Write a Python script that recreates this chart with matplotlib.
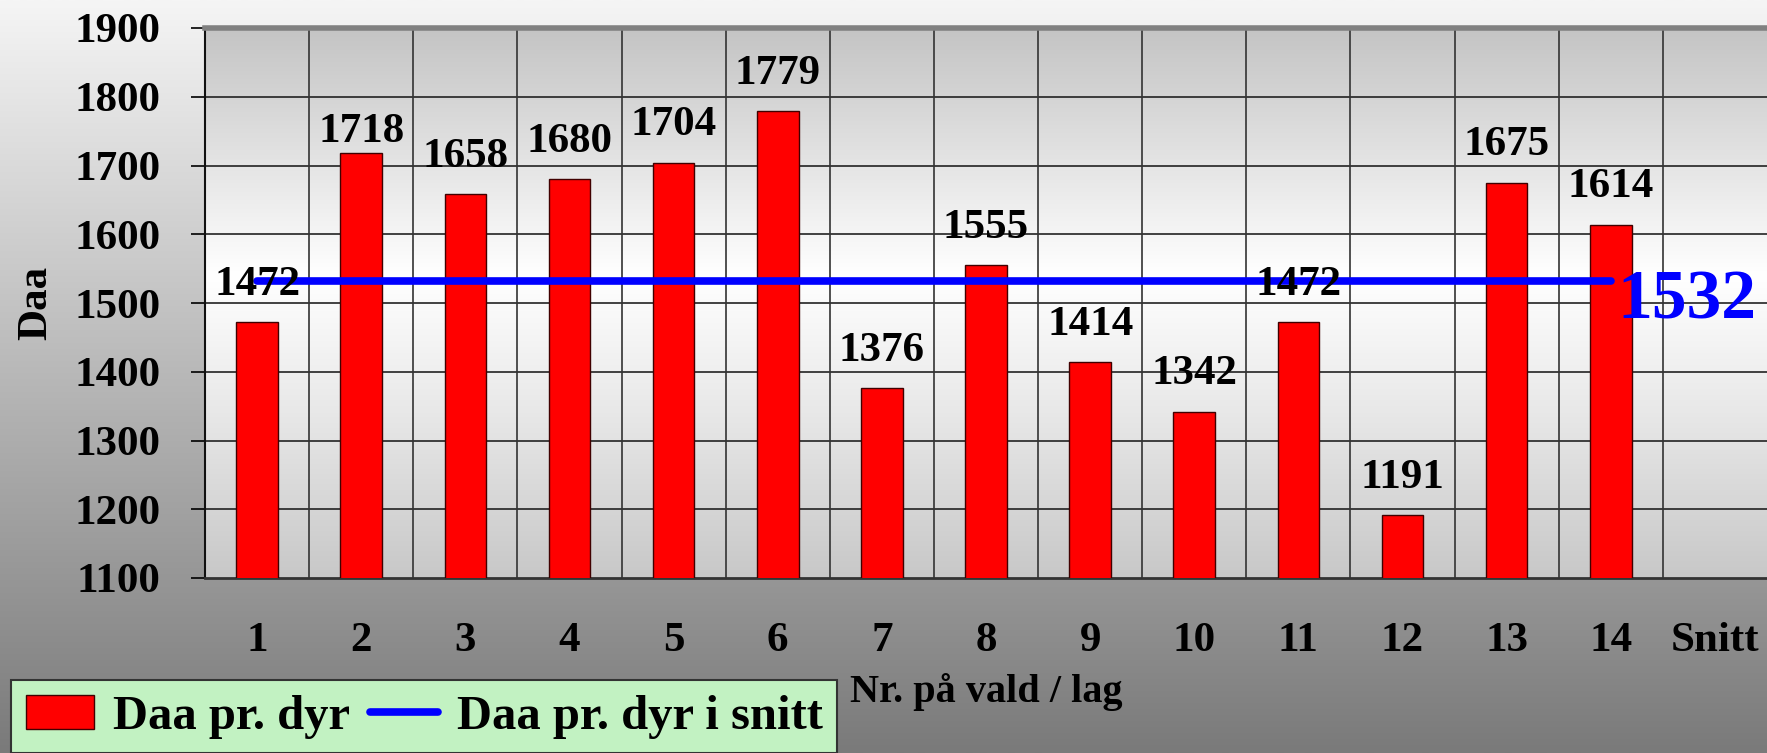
import numpy as np
import matplotlib
matplotlib.use("Agg")
import matplotlib.pyplot as plt
from matplotlib.patches import Patch
from matplotlib.lines import Line2D

# data
kategorier = ['1', '2', '3', '4', '5', '6', '7', '8', '9', '10', '11', '12', '13', '14', 'Snitt']
daa = [1472, 1718, 1658, 1680, 1704, 1779, 1376, 1555, 1414, 1342, 1472, 1191, 1675, 1614]
snitt = 1532
yticks = [1100, 1200, 1300, 1400, 1500, 1600, 1700, 1800, 1900]

# label offsets (points above bar top), bar 2 label sits lower
lab_off = [27, 15, 27, 27, 27, 27, 27, 27, 27, 27, 27, 27, 27, 27]

plt.rcParams['font.family'] = ['Liberation Serif', 'DejaVu Serif']
plt.rcParams['font.weight'] = 'bold'

W, H = 1767, 753
fig = plt.figure(figsize=(W / 100, H / 100), dpi=100)

# figure background gradient
bg = fig.add_axes([0, 0, 1, 1], zorder=-10)
g = np.linspace(245, 122, 256)[:, None] / 255.0
bg.imshow(np.dstack([g, g, g]), aspect='auto', extent=[0, 1, 0, 1])
bg.set_axis_off()

ax = fig.add_axes([205 / W, (H - 578) / H, (W - 205) / W, 550 / H])
x = np.arange(len(kategorier))

# plot area gradient (grey - white - grey)
yy = np.linspace(0, 1, 256)
v = (np.interp(yy, [0, 0.3, 0.55, 1], [200, 232, 255, 196]) / 255.0)[:, None]
ax.imshow(np.dstack([v, v, v]), aspect='auto', extent=[-0.5, 14.5, 1100, 1900],
          origin='lower', zorder=0)

ax.bar(x[:len(daa)], daa, width=0.4, bottom=0, color='#ff0000', edgecolor='#400000',
       linewidth=1, zorder=3, label='Daa pr. dyr')
ax.plot(x[:len(daa)], [snitt] * len(daa), color='#0000ff', linewidth=5.5,
        solid_capstyle='round', zorder=4)

for i, val in enumerate(daa):
    ax.annotate(str(val), (x[i], val), xytext=(0, lab_off[i]), textcoords='offset points',
                ha='center', va='center', fontsize=31, fontweight='bold', zorder=5)

ax.annotate(str(snitt), (x[len(daa) - 1], snitt), xytext=(5, -15), textcoords='offset points',
            ha='left', va='center', fontsize=50, fontweight='bold', color='#0000ff', zorder=5,
            annotation_clip=False)

ax.set_xlim(-0.5, 14.5)
ax.set_ylim(1100, 1900)
ax.set_yticks(yticks)
ax.set_yticklabels([str(t) for t in yticks], fontsize=31, fontweight='bold')
ax.set_xticks(x)
ax.set_xticklabels(kategorier, fontsize=31, fontweight='bold')
ax.tick_params(axis='y', direction='out', length=10, width=1.2, pad=22)
ax.tick_params(axis='x', length=0, pad=32)

# grid lines: horizontal at ticks, vertical at category borders
for t in yticks[1:-1]:
    ax.axhline(t, color='#222222', linewidth=1.2, zorder=1)
for b in np.arange(0.5, 14.5, 1):
    ax.axvline(b, color='#333333', linewidth=1.2, zorder=1)

ax.spines['right'].set_visible(False)
ax.spines['top'].set_color('#808080')
ax.spines['top'].set_linewidth(4)
ax.spines['left'].set_color('#111111')
ax.spines['left'].set_linewidth(1.5)
ax.spines['bottom'].set_color('#333333')
ax.spines['bottom'].set_linewidth(2)

ax.set_ylabel('Daa', fontsize=31, fontweight='bold', labelpad=14)
ax.set_xlabel('Nr. på vald / lag', fontsize=29, fontweight='bold', labelpad=9)

handles = [Patch(facecolor='#ff0000', edgecolor='#400000'),
           Line2D([0], [0], color='#0000ff', linewidth=5.5, solid_capstyle='round')]
leg = fig.legend(handles, ['Daa pr. dyr', 'Daa pr. dyr i snitt'], loc='upper left',
                 bbox_to_anchor=(11 / W, (H - 680) / H), borderaxespad=0, ncol=2,
                 frameon=True, fancybox=False, facecolor='#c2f2c2', edgecolor='#333333',
                 framealpha=1, handlelength=1.4, handletextpad=0.4, columnspacing=0.4,
                 borderpad=0.3, prop={'weight': 'bold', 'size': 35})
leg.get_frame().set_linewidth(1.5)

fig.savefig('out.png', dpi=100)
